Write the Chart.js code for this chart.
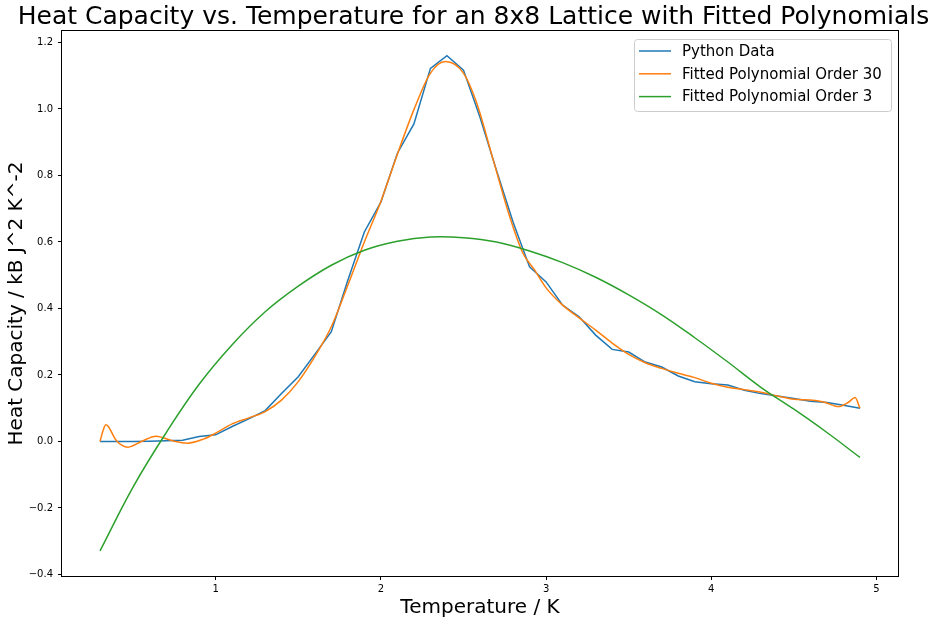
<!DOCTYPE html>
<html>
<head>
<meta charset="utf-8">
<title>Heat Capacity vs. Temperature</title>
<script src="https://cdn.jsdelivr.net/npm/chart.js@4.4.0/dist/chart.umd.min.js"></script>
<style>
  html, body { margin: 0; padding: 0; background: #fff; }
  #wrap { width: 947px; height: 622px; }
</style>
</head>
<body>
<div id="wrap"><canvas id="heat_graf" width="947" height="622"></canvas></div>
<script>
// values
let temps = [0.3, 0.4, 0.5, 0.6, 0.7, 0.8, 0.9, 1.0, 1.1, 1.2, 1.3, 1.4, 1.5, 1.6, 1.7, 1.8,
    1.9, 2.0, 2.1, 2.2, 2.3, 2.4, 2.5, 2.6, 2.7, 2.8, 2.9, 3.0, 3.1, 3.2, 3.3, 3.4,
    3.5, 3.6, 3.7, 3.8, 3.9, 4.0, 4.1, 4.2, 4.3, 4.4, 4.5, 4.6, 4.7, 4.8, 4.9];
let heat_cap = [0.000, 0.000, 0.000, 0.001, 0.002, 0.004, 0.015, 0.020, 0.045, 0.068, 0.093, 0.145, 0.195, 0.262, 0.330, 0.485,
    0.630, 0.720, 0.867, 0.955, 1.122, 1.160, 1.117, 0.975, 0.815, 0.660, 0.525, 0.480, 0.410, 0.375, 0.320, 0.277,
    0.269, 0.239, 0.224, 0.197, 0.180, 0.174, 0.170, 0.154, 0.144, 0.137, 0.129, 0.121, 0.117, 0.109, 0.100];

let fit30_t = [0.30, 0.32, 0.335, 0.35, 0.40, 0.47, 0.55, 0.64, 0.74, 0.83, 0.93, 1.00, 1.10, 1.20, 1.30, 1.40,
    1.50, 1.60, 1.70, 1.80, 1.90, 2.00, 2.10, 2.20, 2.30, 2.39, 2.50, 2.58, 2.68, 2.78, 2.86, 2.93,
    3.00, 3.10, 3.20, 3.30, 3.40, 3.50, 3.60, 3.70, 3.80, 3.90, 4.00, 4.10, 4.20, 4.30, 4.40, 4.50,
    4.60, 4.68, 4.77, 4.83, 4.87, 4.90];
let fit30_c = [0.000, 0.035, 0.050, 0.045, 0.002, -0.017, 0.000, 0.016, 0.002, -0.005, 0.008, 0.025, 0.053, 0.071, 0.090, 0.125,
    0.180, 0.255, 0.345, 0.470, 0.600, 0.722, 0.864, 0.998, 1.108, 1.143, 1.108, 1.018, 0.847, 0.676, 0.566, 0.516,
    0.462, 0.410, 0.372, 0.335, 0.296, 0.262, 0.237, 0.220, 0.205, 0.192, 0.175, 0.163, 0.156, 0.148, 0.137, 0.127,
    0.125, 0.119, 0.105, 0.118, 0.132, 0.100];

let fit3_t = [0.3, 0.5, 0.7, 0.9, 1.1, 1.3, 1.5, 1.7, 1.9, 2.1, 2.3, 2.5,
    2.7, 2.9, 3.1, 3.3, 3.5, 3.7, 3.9, 4.1, 4.3, 4.5, 4.7, 4.9];
let fit3_c = [-0.329, -0.137, 0.026, 0.172, 0.291, 0.390, 0.467, 0.530, 0.575, 0.602, 0.615, 0.613,
    0.600, 0.573, 0.538, 0.494, 0.441, 0.381, 0.312, 0.239, 0.163, 0.097, 0.027, -0.048];

let series_names = ['Python Data', 'Fitted Polynomial Order 30', 'Fitted Polynomial Order 3'];
let series_colors = ['#1f77b4', '#ff7f0e', '#2ca02c'];

let x_ticks = [1, 2, 3, 4, 5];
let x_tick_labels = ['1', '2', '3', '4', '5'];
let y_ticks = [-0.4, -0.2, 0.0, 0.2, 0.4, 0.6, 0.8, 1.0, 1.2];
let y_tick_labels = ['\u22120.4', '\u22120.2', '0.0', '0.2', '0.4', '0.6', '0.8', '1.0', '1.2'];

function pts(xs, ys) {
    return xs.map((x, i) => ({x: x, y: ys[i]}));
}

Chart.defaults.font.family = "'DejaVu Sans', sans-serif";
Chart.defaults.color = '#000';

// black box round the plot area, like the matplotlib spines
const frame = {
    id: 'frame',
    afterDatasetsDraw(chart) {
        const a = chart.chartArea, ctx = chart.ctx;
        ctx.save();
        ctx.strokeStyle = '#000';
        ctx.lineWidth = 1;
        ctx.strokeRect(Math.round(a.left) - 0.5, Math.round(a.top) - 0.5,
            Math.round(a.right - a.left) + 1, Math.round(a.bottom - a.top) + 1);
        ctx.restore();
    }
};

// legend box in the upper right corner of the plot
const box_legend = {
    id: 'box_legend',
    afterDraw(chart) {
        const ctx = chart.ctx;
        const x0 = 634.5, y0 = 39.5, w = 257, h = 72, r = 3;
        ctx.save();
        ctx.beginPath();
        ctx.roundRect(x0, y0, w, h, r);
        ctx.fillStyle = 'rgba(255,255,255,0.8)';
        ctx.fill();
        ctx.strokeStyle = '#cccccc';
        ctx.lineWidth = 1;
        ctx.stroke();
        ctx.font = "15px 'DejaVu Sans'";
        ctx.textBaseline = 'middle';
        ctx.fillStyle = '#000';
        for (let i = 0; i < series_names.length; i++) {
            const y = 51 + i * 22.8;
            ctx.beginPath();
            ctx.moveTo(639, y);
            ctx.lineTo(671, y);
            ctx.strokeStyle = series_colors[i];
            ctx.lineWidth = 1.5;
            ctx.stroke();
            ctx.fillText(series_names[i], 682, y + 1);
        }
        ctx.restore();
    }
};

const heat_graf = new Chart('heat_graf', {
    type: 'line',
    data: {
        datasets: [{
            label: series_names[0],
            data: pts(temps, heat_cap),
            borderColor: series_colors[0],
            borderWidth: 1.5,
            pointRadius: 0,
            tension: 0,
            order: 2
        }, {
            label: series_names[1],
            data: pts(fit30_t, fit30_c),
            borderColor: series_colors[1],
            borderWidth: 1.5,
            pointRadius: 0,
            cubicInterpolationMode: 'monotone',
            order: 1
        }, {
            label: series_names[2],
            data: pts(fit3_t, fit3_c),
            borderColor: series_colors[2],
            borderWidth: 1.5,
            pointRadius: 0,
            tension: 0.4,
            order: 0
        }]
    },
    options: {
        responsive: false,
        animation: false,
        devicePixelRatio: 1,
        layout: {padding: 0},
        plugins: {
            legend: {display: false},
            tooltip: {enabled: false},
            title: {
                display: true,
                text: 'Heat Capacity vs. Temperature for an 8x8 Lattice with Fitted Polynomials',
                color: '#000',
                font: {size: 25, weight: 'normal', lineHeight: 1.1},
                padding: {top: 3.5, bottom: 0}
            }
        },
        scales: {
            x: {
                type: 'linear',
                min: 0.07,
                max: 5.13,
                afterBuildTicks: axis => { axis.ticks = x_ticks.map(v => ({value: v})); },
                afterFit: axis => { axis.height = 46; },
                ticks: {
                    font: {size: 10},
                    padding: 3,
                    maxRotation: 0,
                    callback: (v) => x_tick_labels[x_ticks.indexOf(v)]
                },
                grid: {drawOnChartArea: false, drawTicks: true, tickLength: 4, tickColor: '#000'},
                border: {display: false},
                title: {
                    display: true,
                    text: 'Temperature / K',
                    font: {size: 20},
                    padding: {top: 0, bottom: 2}
                }
            },
            y: {
                type: 'linear',
                min: -0.4045,
                max: 1.2345,
                afterBuildTicks: axis => { axis.ticks = y_ticks.map(v => ({value: v})); },
                afterFit: axis => { axis.width = 62; },
                ticks: {
                    font: {size: 10},
                    padding: 5,
                    callback: (v) => {
                        const i = y_ticks.findIndex(t => Math.abs(t - v) < 1e-9);
                        return i < 0 ? '' : y_tick_labels[i];
                    }
                },
                grid: {drawOnChartArea: false, drawTicks: true, tickLength: 4, tickColor: '#000'},
                border: {display: false},
                title: {
                    display: true,
                    text: 'Heat Capacity / kB J^2 K^-2',
                    font: {size: 20},
                    padding: {top: 5, bottom: 0}
                }
            },
            // empty strip on the right so the figure margin matches
            yr: {
                type: 'linear',
                position: 'right',
                afterFit: axis => { axis.width = 49; },
                ticks: {display: false},
                grid: {display: false},
                border: {display: false}
            }
        }
    },
    plugins: [frame, box_legend]
});
</script>
</body>
</html>
